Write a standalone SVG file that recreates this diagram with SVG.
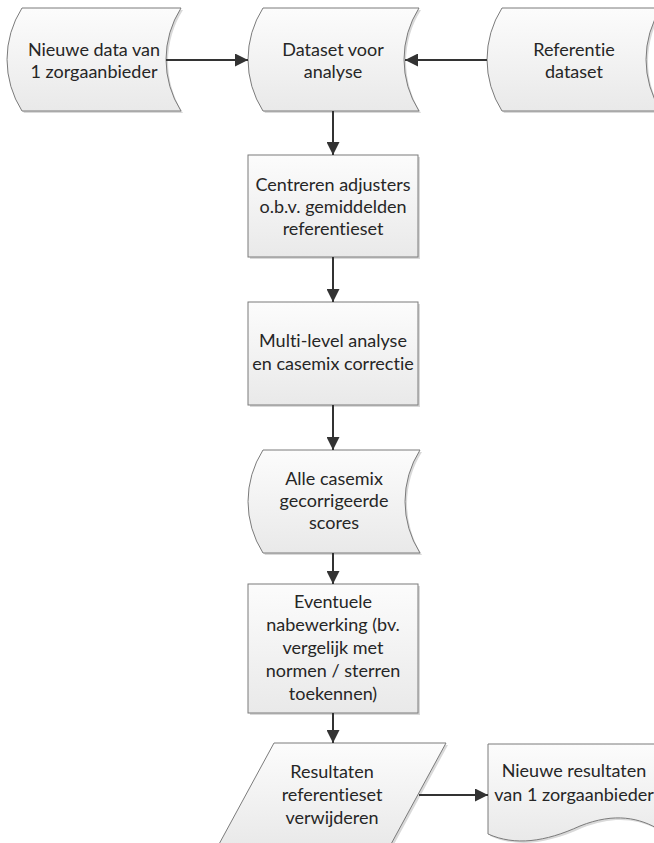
<svg xmlns="http://www.w3.org/2000/svg" xmlns:xlink="http://www.w3.org/1999/xlink" width="654" height="843" viewBox="0 0 654 843">
<defs>
<linearGradient id="g" x1="0" y1="0" x2="0" y2="1">
<stop offset="0" stop-color="#fcfcfc"/>
<stop offset="1" stop-color="#e9e9e9"/>
</linearGradient>
<marker id="ah" markerWidth="13" markerHeight="13" refX="13" refY="6.5" orient="auto" markerUnits="userSpaceOnUse">
<path d="M0,0 L13,6.5 L0,13 Z" fill="#333"/>
</marker>
<path id="p1" d="M22,8 H181 A96 96 0 0 0 181,111 H22 A96 96 0 0 1 22,8 Z"/>
<path id="p2" d="M263,8 H419 A96 96 0 0 0 419,111 H263 A96 96 0 0 1 263,8 Z"/>
<path id="p3" d="M502,8 H661 A96 96 0 0 0 661,111 H502 A96 96 0 0 1 502,8 Z"/>
<path id="p4" d="M263,450 H420 A96 96 0 0 0 420,553 H263 A96 96 0 0 1 263,450 Z"/>
<rect id="r1" x="248" y="155" width="170" height="102"/>
<rect id="r2" x="248" y="302" width="170" height="103"/>
<rect id="r3" x="248" y="584" width="170" height="129"/>
<path id="pg" d="M274,743 H446 L390,846 H218 Z"/>
<path id="doc" d="M488,744 H660 V830 C640,818 615,812 580,826 C545,842 515,846 488,834 Z"/>
</defs>
<style>
.sh{fill:#d9d9d9;stroke:none}
.sp{fill:url(#g);stroke:#7b7b7b;stroke-width:1}
text{font-family:Lato,"Liberation Sans",sans-serif;font-size:18px;fill:#262626;text-anchor:middle;font-variant-ligatures:none;font-feature-settings:"liga" 0,"clig" 0}
.c{fill:none;stroke:#333;stroke-width:2;marker-end:url(#ah)}
</style>
<rect width="654" height="843" fill="#ffffff"/>
<g id="n1">
<use xlink:href="#p1" class="sh" transform="translate(2,2)"/>
<use xlink:href="#p1" class="sp"/>
<text x="94" y="56">Nieuwe data van</text>
<text x="94" y="78">1 zorgaanbieder</text>
</g>
<g id="n2">
<use xlink:href="#p2" class="sh" transform="translate(2,2)"/>
<use xlink:href="#p2" class="sp"/>
<text x="333" y="56">Dataset voor</text>
<text x="333" y="78">analyse</text>
</g>
<g id="n3">
<use xlink:href="#p3" class="sh" transform="translate(2,2)"/>
<use xlink:href="#p3" class="sp"/>
<text x="574" y="56">Referentie</text>
<text x="574" y="78">dataset</text>
</g>
<g id="n4">
<use xlink:href="#r1" class="sh" transform="translate(2,2)"/>
<use xlink:href="#r1" class="sp"/>
<text x="333" y="191">Centreren adjusters</text>
<text x="333" y="213">o.b.v. gemiddelden</text>
<text x="333" y="235">referentieset</text>
</g>
<g id="n5">
<use xlink:href="#r2" class="sh" transform="translate(2,2)"/>
<use xlink:href="#r2" class="sp"/>
<text x="333" y="347">Multi-level analyse</text>
<text x="333" y="370">en casemix correctie</text>
</g>
<g id="n6">
<use xlink:href="#p4" class="sh" transform="translate(2,2)"/>
<use xlink:href="#p4" class="sp"/>
<text x="334" y="485">Alle casemix</text>
<text x="334" y="507">gecorrigeerde</text>
<text x="334" y="529">scores</text>
</g>
<g id="n7">
<use xlink:href="#r3" class="sh" transform="translate(2,2)"/>
<use xlink:href="#r3" class="sp"/>
<text x="333" y="608">Eventuele</text>
<text x="333" y="631">nabewerking (bv.</text>
<text x="333" y="654">vergelijk met</text>
<text x="333" y="677">normen / sterren</text>
<text x="333" y="700">toekennen)</text>
</g>
<g id="n8">
<use xlink:href="#pg" class="sh" transform="translate(2,2)"/>
<use xlink:href="#pg" class="sp"/>
<text x="332" y="778">Resultaten</text>
<text x="332" y="801">referentieset</text>
<text x="332" y="824">verwijderen</text>
</g>
<g id="n9">
<use xlink:href="#doc" class="sh" transform="translate(2,2)"/>
<use xlink:href="#doc" class="sp"/>
<text x="574" y="777">Nieuwe resultaten</text>
<text x="574" y="801">van 1 zorgaanbieder</text>
</g>
<g id="connectors">
<path class="c" d="M166,60 H248"/>
<path class="c" d="M487,60 H405"/>
<path class="c" d="M333,111 V155"/>
<path class="c" d="M333,257 V302"/>
<path class="c" d="M333,405 V450"/>
<path class="c" d="M333,553 V584"/>
<path class="c" d="M333,713 V743"/>
<path class="c" d="M419,795 H488"/>
</g>
</svg>
